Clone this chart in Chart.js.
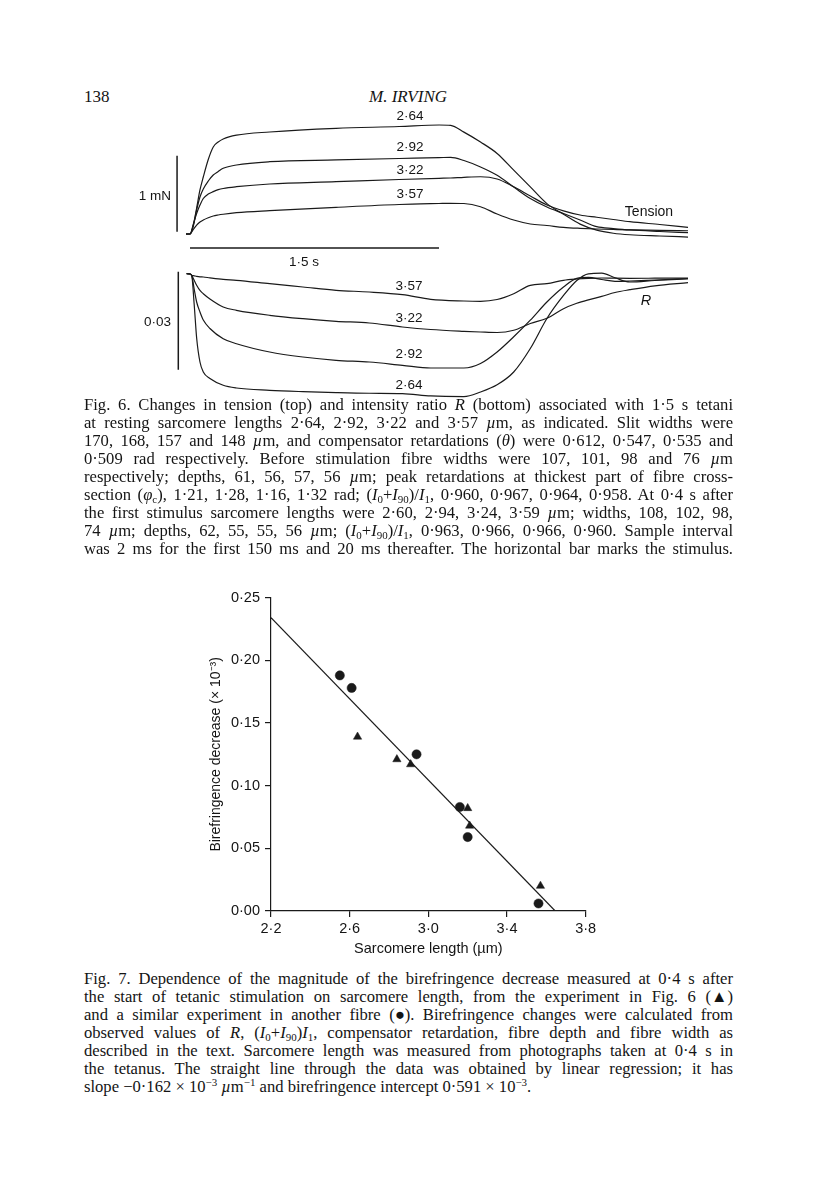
<!DOCTYPE html>
<html><head><meta charset="utf-8">
<script src="https://cdn.jsdelivr.net/npm/chart.js@4.4.1/dist/chart.umd.min.js"></script>
<style>
html,body{margin:0;padding:0;background:#fff;}
body{width:816px;height:1183px;position:relative;overflow:hidden;font-family:'Liberation Serif',serif;color:#141414;}
canvas{position:absolute;}
.lbl{position:absolute;font-family:'Liberation Sans',Arial,sans-serif;font-size:13.5px;line-height:1;transform:translate(-50%,-50%);white-space:nowrap;color:#141414;}
.lblr{position:absolute;font-family:'Liberation Sans',Arial,sans-serif;font-size:13.5px;line-height:1;transform:translate(-100%,-50%);white-space:nowrap;color:#141414;}
.hdr{position:absolute;font-size:17px;line-height:20px;white-space:nowrap;}
.cap{position:absolute;left:84px;width:649px;font-size:16.6px;line-height:18px;}
.ln{height:18px;white-space:nowrap;}
.ln span{white-space:nowrap;}
sub{font-size:0.66em;vertical-align:-0.3em;line-height:0;}
sup{font-size:0.66em;vertical-align:0.55em;line-height:0;}
</style></head>
<body>
<div class="hdr" style="left:84px;top:87px;">138</div>
<div class="hdr" style="left:408px;top:87px;transform:translateX(-50%);font-style:italic;">M. IRVING</div>

<canvas id="tension" width="540" height="155" style="left:150px;top:105px;"></canvas>
<canvas id="ratio" width="540" height="143" style="left:150px;top:262px;"></canvas>

<div class="lbl" style="left:410px;top:116px;">2·64</div>
<div class="lbl" style="left:410px;top:147px;">2·92</div>
<div class="lbl" style="left:410px;top:170px;">3·22</div>
<div class="lbl" style="left:410px;top:194px;">3·57</div>
<div class="lblr" style="left:171px;top:196px;">1 mN</div>
<div class="lbl" style="left:649px;top:211px;font-size:14px;">Tension</div>
<div class="lbl" style="left:304px;top:262px;">1·5 s</div>
<div class="lbl" style="left:409px;top:286px;">3·57</div>
<div class="lbl" style="left:409px;top:318px;">3·22</div>
<div class="lbl" style="left:409px;top:354px;">2·92</div>
<div class="lbl" style="left:409px;top:385px;">2·64</div>
<div class="lblr" style="left:171px;top:322px;">0·03</div>
<div class="lbl" style="left:646px;top:300px;font-style:italic;font-size:14.5px;">R</div>

<div class="cap" style="top:396px;">
<div class="ln j"><span>Fig. 6. Changes in tension (top) and intensity ratio <i>R</i> (bottom) associated with 1·5 s tetani</span></div>
<div class="ln j"><span>at resting sarcomere lengths 2·64, 2·92, 3·22 and 3·57 <i>µ</i>m, as indicated. Slit widths were</span></div>
<div class="ln j"><span>170, 168, 157 and 148 <i>µ</i>m, and compensator retardations (<i>θ</i>) were 0·612, 0·547, 0·535 and</span></div>
<div class="ln j"><span>0·509 rad respectively. Before stimulation fibre widths were 107, 101, 98 and 76 <i>µ</i>m</span></div>
<div class="ln j"><span>respectively; depths, 61, 56, 57, 56 <i>µ</i>m; peak retardations at thickest part of fibre cross-</span></div>
<div class="ln j"><span>section (<i>φ</i><sub>c</sub>), 1·21, 1·28, 1·16, 1·32 rad; (<i>I</i><sub>0</sub>+<i>I</i><sub>90</sub>)/<i>I</i><sub>1</sub>, 0·960, 0·967, 0·964, 0·958. At 0·4 s after</span></div>
<div class="ln j"><span>the first stimulus sarcomere lengths were 2·60, 2·94, 3·24, 3·59 <i>µ</i>m; widths, 108, 102, 98,</span></div>
<div class="ln j"><span>74 <i>µ</i>m; depths, 62, 55, 55, 56 <i>µ</i>m; (<i>I</i><sub>0</sub>+<i>I</i><sub>90</sub>)/<i>I</i><sub>1</sub>, 0·963, 0·966, 0·966, 0·960. Sample interval</span></div>
<div class="ln j"><span>was 2 ms for the first 150 ms and 20 ms thereafter. The horizontal bar marks the stimulus.</span></div>
</div>

<canvas id="biref" width="430" height="390" style="left:190px;top:575px;"></canvas>

<div class="cap" style="top:970px;">
<div class="ln j"><span>Fig. 7. Dependence of the magnitude of the birefringence decrease measured at 0·4 s after</span></div>
<div class="ln j"><span>the start of tetanic stimulation on sarcomere length, from the experiment in Fig. 6 (▲)</span></div>
<div class="ln j"><span>and a similar experiment in another fibre (●). Birefringence changes were calculated from</span></div>
<div class="ln j"><span>observed values of <i>R</i>, (<i>I</i><sub>0</sub>+<i>I</i><sub>90</sub>)<i>I</i><sub>1</sub>, compensator retardation, fibre depth and fibre width as</span></div>
<div class="ln j"><span>described in the text. Sarcomere length was measured from photographs taken at 0·4 s in</span></div>
<div class="ln j"><span>the tetanus. The straight line through the data was obtained by linear regression; it has</span></div>
<div class="ln"><span>slope −0·162 × 10<sup>−3</sup> <i>µ</i>m<sup>−1</sup> and birefringence intercept 0·591 × 10<sup>−3</sup>.</span></div>
</div>

<script>
// ---------- Fig. 6 data (time in s from first stimulus) ----------
const tensionTime = [-0.024, 0, 0.02, 0.04, 0.06, 0.08, 0.11, 0.14, 0.17, 0.2, 0.28, 0.48, 0.88, 1.26, 1.5, 1.57, 1.65, 1.75, 1.85, 1.95, 2.05, 2.15, 2.25, 2.35, 2.45, 2.55, 2.65, 2.83, 3.0];
// tension (mN)
const tension264 = [0, 0, 0.118, 0.342, 0.579, 0.75, 0.98, 1.145, 1.21, 1.25, 1.30, 1.342, 1.39, 1.414, 1.434, 1.428, 1.34, 1.21, 1.06, 0.84, 0.62, 0.40, 0.26, 0.13, 0.05, 0.01, -0.01, -0.026, -0.04];
const tension292 = [0, 0, 0.105, 0.316, 0.487, 0.592, 0.697, 0.776, 0.822, 0.864, 0.908, 0.951, 0.974, 0.993, 1.004, 1.009, 0.967, 0.882, 0.772, 0.618, 0.467, 0.355, 0.270, 0.184, 0.096, 0.072, 0.053, 0.033, 0.017];
const tension322 = [0, 0, 0.13, 0.27, 0.38, 0.467, 0.526, 0.557, 0.583, 0.599, 0.622, 0.658, 0.688, 0.717, 0.733, 0.737, 0.746, 0.753, 0.724, 0.621, 0.5, 0.382, 0.305, 0.25, 0.22, 0.191, 0.162, 0.125, 0.088];
const tension357 = [0, 0, 0.06, 0.118, 0.158, 0.184, 0.214, 0.237, 0.25, 0.26, 0.28, 0.307, 0.351, 0.388, 0.401, 0.404, 0.401, 0.359, 0.263, 0.184, 0.132, 0.112, 0.088, 0.075, 0.066, 0.059, 0.053, 0.049, 0.043];

const ratioTime = [-0.02, 0, 0.01, 0.025, 0.04, 0.06, 0.08, 0.12, 0.2, 0.28, 0.48, 0.68, 0.88, 1.08, 1.28, 1.45, 1.65, 1.75, 1.85, 1.95, 2.05, 2.15, 2.25, 2.33, 2.4, 2.48, 2.56, 2.65, 2.8, 3.0];
// change in intensity ratio R (units of 0.01)
const ratio357 = [0, -0.009, -0.049, -0.064, -0.080, -0.095, -0.101, -0.126, -0.171, -0.202, -0.306, -0.407, -0.508, -0.560, -0.643, -0.784, -0.836, -0.845, -0.790, -0.612, -0.355, -0.306, -0.202, -0.162, -0.141, -0.132, -0.138, -0.141, -0.138, -0.132];
const ratio322 = [0, -0.009, -0.049, -0.202, -0.355, -0.514, -0.612, -0.774, -1.019, -1.120, -1.273, -1.377, -1.457, -1.509, -1.631, -1.708, -1.763, -1.784, -1.800, -1.732, -1.524, -1.365, -1.071, -0.906, -0.799, -0.695, -0.575, -0.490, -0.370, -0.275];
const ratio292 = [0, -0.009, -0.049, -0.468, -0.866, -1.172, -1.417, -1.677, -1.990, -2.143, -2.397, -2.550, -2.651, -2.703, -2.804, -2.886, -2.886, -2.749, -2.397, -1.931, -1.423, -0.866, -0.407, -0.141, -0.113, -0.178, -0.233, -0.223, -0.193, -0.153];
const ratio264 = [0, -0.009, -0.049, -0.927, -1.968, -2.703, -3.009, -3.211, -3.416, -3.499, -3.569, -3.610, -3.640, -3.660, -3.670, -3.740, -3.760, -3.620, -3.400, -3.009, -2.290, -1.371, -0.667, -0.208, -0.003, 0.015, -0.125, -0.254, -0.208, -0.153];

// calibration bars: 1 mN, 1·5 s stimulus, 0·03 in R
const tensionBarX = [-0.078, -0.078];
const tensionBarY = [0.03, 1.03];
const stimBarX = [0, 1.5];
const stimBarY = [-0.184, -0.184];
const ratioBarX = [-0.0705, -0.0705];
const ratioBarY = [0.06, -2.94];

// ---------- Fig. 7 data ----------
const triX = [2.64, 2.84, 2.91, 3.20, 3.21, 3.57];
const triY = [0.139, 0.121, 0.117, 0.082, 0.068, 0.020];
const circX = [2.55, 2.61, 2.94, 3.16, 3.20, 3.56];
const circY = [0.188, 0.178, 0.125, 0.083, 0.059, 0.006];
const fitX = [2.2, 3.645];
const fitY = [0.234, 0.0];
const xTicks = [2.2, 2.6, 3.0, 3.4, 3.8];
const yTicks = [0, 0.05, 0.10, 0.15, 0.20, 0.25];

Chart.defaults.font.family = "'Liberation Sans', Arial, sans-serif";
Chart.defaults.color = '#141414';

const pts = (xs, ys) => xs.map((x, i) => ({x: x, y: ys[i]}));
const ink = '#1a1a1a';
function trace(xs, ys) {
  return {type: 'line', data: pts(xs, ys), borderColor: ink, borderWidth: 1.2, pointRadius: 0, fill: false, cubicInterpolationMode: 'monotone'};
}
function bar(xs, ys, w) {
  return {type: 'line', data: pts(xs, ys), borderColor: ink, borderWidth: w, pointRadius: 0, fill: false, tension: 0};
}
const hiddenOpts = (xmin, xmax, ymin, ymax) => ({
  responsive: false, animation: false, events: [],
  plugins: {legend: {display: false}, tooltip: {enabled: false}},
  layout: {padding: 0},
  scales: {
    x: {type: 'linear', display: false, min: xmin, max: xmax},
    y: {type: 'linear', display: false, min: ymin, max: ymax}
  }
});

new Chart(document.getElementById('tension'), {
  type: 'line',
  data: {datasets: [
    trace(tensionTime, tension264), trace(tensionTime, tension292),
    trace(tensionTime, tension322), trace(tensionTime, tension357),
    bar(tensionBarX, tensionBarY, 1.5), bar(stimBarX, stimBarY, 1.6)
  ]},
  options: hiddenOpts(-0.241, 3.012, -0.342, 1.697)
});

new Chart(document.getElementById('ratio'), {
  type: 'line',
  data: {datasets: [
    trace(ratioTime, ratio357), trace(ratioTime, ratio322),
    trace(ratioTime, ratio292), trace(ratioTime, ratio264),
    bar(ratioBarX, ratioBarY, 1.5)
  ]},
  options: hiddenOpts(-0.241, 3.012, -4.019, 0.358)
});

const fmt = (v, d) => Number(v).toFixed(d).replace('.', '·');
new Chart(document.getElementById('biref'), {
  type: 'scatter',
  data: {datasets: [
    {type: 'line', data: pts(fitX, fitY), borderColor: ink, borderWidth: 1.2, pointRadius: 0, fill: false, order: 3},
    {data: pts(triX, triY), pointStyle: 'triangle', pointRadius: 4.8, backgroundColor: ink, borderColor: ink, borderWidth: 0.5, order: 1},
    {data: pts(circX, circY), pointStyle: 'circle', pointRadius: 4.6, backgroundColor: ink, borderColor: ink, borderWidth: 0.5, order: 2}
  ]},
  options: {
    responsive: false, animation: false, events: [],
    plugins: {legend: {display: false}, tooltip: {enabled: false}},
    layout: {padding: {left: 0, top: 22.7, right: 34.3, bottom: 0}},
    scales: {
      x: {
        type: 'linear', min: xTicks[0], max: xTicks[xTicks.length - 1],
        afterFit: s => { s.height = 54; },
        afterBuildTicks: s => { s.ticks = xTicks.map(v => ({value: v})); },
        ticks: {callback: v => fmt(v, 1), padding: 3, font: {size: 14.5}, color: '#141414', maxRotation: 0, autoSkip: false},
        grid: {drawOnChartArea: false, tickLength: 6, color: ink, lineWidth: 1.2},
        border: {color: ink, width: 1.2},
        title: {display: true, text: 'Sarcomere length (µm)', font: {size: 14.5}, color: '#141414', padding: {top: 0, bottom: 7.3}}
      },
      y: {
        type: 'linear', min: yTicks[0], max: yTicks[yTicks.length - 1],
        afterFit: s => { s.width = 81; },
        afterBuildTicks: s => { s.ticks = yTicks.map(v => ({value: v})); },
        ticks: {callback: v => fmt(v, 2), padding: 5, font: {size: 14.5}, color: '#141414', autoSkip: false},
        grid: {drawOnChartArea: false, tickLength: 6, color: ink, lineWidth: 1.2},
        border: {color: ink, width: 1.2},
        title: {display: true, text: 'Birefringence decrease (× 10⁻³)', font: {size: 14}, color: '#141414', padding: {top: 18, bottom: 0}}
      }
    }
  }
});

// justify caption lines to the text block width
document.querySelectorAll('.ln.j').forEach(el => {
  const sp = el.firstElementChild;
  const w = sp.getBoundingClientRect().width;
  const n = (sp.textContent.match(/ /g) || []).length;
  if (n > 0) sp.style.wordSpacing = ((649 - w) / n) + 'px';
});
</script>
</body></html>
